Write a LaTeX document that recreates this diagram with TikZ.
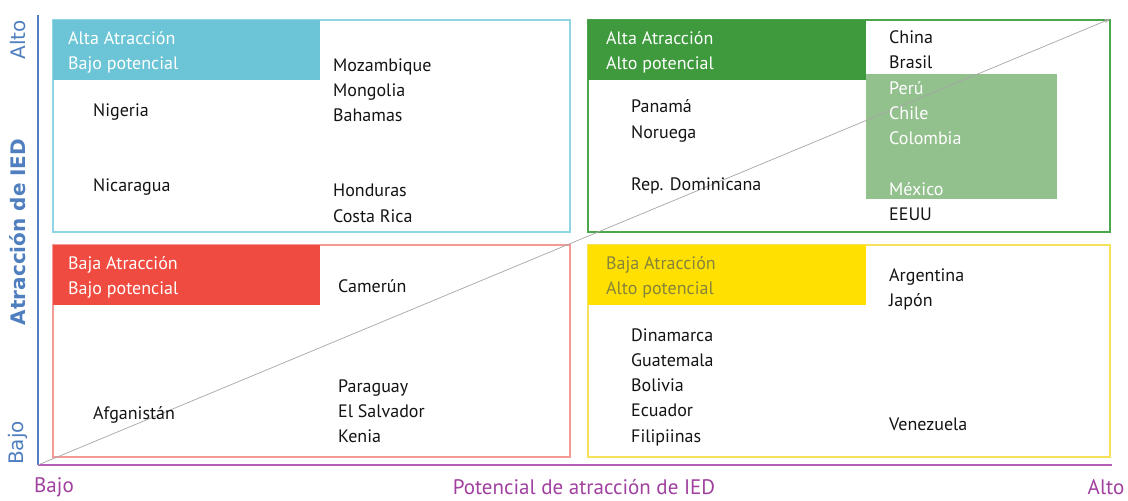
\documentclass[tikz,border=0pt]{standalone}
\usepackage{fontspec}
\setmainfont{PT Sans}
\newfontfamily\axisfont{DejaVu Sans}
\usetikzlibrary{arrows.meta}
\definecolor{cyanH}{HTML}{6CC5D6}
\definecolor{cyanB}{HTML}{8FD5E3}
\definecolor{greenH}{HTML}{3E9A3C}
\definecolor{greenB}{HTML}{4CA64A}
\definecolor{greenL}{HTML}{93C18E}
\definecolor{redH}{HTML}{EF4B40}
\definecolor{redB}{HTML}{F49A96}
\definecolor{yelH}{HTML}{FFE000}
\definecolor{yelB}{HTML}{F5E15A}
\definecolor{yelT}{HTML}{86843A}
\definecolor{axBlue}{HTML}{4F7FBF}
\definecolor{axPurple}{HTML}{B35DB8}
\definecolor{txPurple}{HTML}{A0409F}
\definecolor{txt}{HTML}{141414}
\tikzset{
  lbl/.style={anchor=base west, inner sep=0pt, font=\fontsize{18}{20}\selectfont, text=txt},
  hdr/.style={lbl, text=white},
  quad/.style={line width=1.3pt},
  ylab/.style={rotate=90, text=axBlue, inner sep=0pt, font=\axisfont\fontsize{20}{22}\selectfont},
  xlab/.style={text=txPurple, inner sep=0pt, font=\fontsize{21}{24}\selectfont},
}
\begin{document}
\begin{tikzpicture}[x=1pt,y=-1pt]
\useasboundingbox[fill=white] (0,0) rectangle (1128,501);
% quadrants
\draw[quad, cyanB] (53,20) rectangle (570,232);
\fill[cyanH] (53,20) rectangle (320,80);
\draw[quad, greenB] (588,20) rectangle (1110,232);
\fill[greenH] (588,20) rectangle (866,80);
\draw[quad, redB] (53,245) rectangle (570,457);
\fill[redH] (53,245) rectangle (320,305);
\draw[quad, yelB] (588,245) rectangle (1110,457);
\fill[yelH] (588,245) rectangle (866,305);
\fill[greenL] (866,74) rectangle (1057,199);
% axes
\coordinate (O) at (38,465);
\coordinate (Ytop) at (38,15);
\coordinate (Xend) at (1112,465);
\coordinate (D) at (1110,19);
\draw[axBlue, line width=1.5pt] (Ytop) -- (O);
\draw[axPurple, line width=1.8pt] (O) -- (Xend);
\draw[gray!70, line width=0.7pt, -{Stealth[length=6pt,width=4pt]}] (O) -- (D);
% axis labels
\node[ylab, font=\axisfont\bfseries\fontsize{20}{22}\selectfont] (ya) at (18,232) {Atracción de IED};
\node[ylab] (yh) at (18,40) {Alto};
\node[ylab] (yl) at (18,443) {Bajo};
\node[xlab] (xa) at (584,487) {Potencial de atracción de IED};
\node[xlab] (xl) at (54,487) {Bajo};
\node[xlab] (xh) at (1106,487) {Alto};
% headers
\node[hdr] (h1a) at (68,44) {Alta Atracción};
\node[hdr] (h1b) at (68,69) {Bajo potencial};
\node[hdr] (h2a) at (606,44) {Alta Atracción};
\node[hdr] (h2b) at (606,69) {Alto potencial};
\node[hdr] (h3a) at (68,269) {Baja Atracción};
\node[hdr] (h3b) at (68,294) {Bajo potencial};
\node[hdr, text=yelT] (h4a) at (606,269) {Baja Atracción};
\node[hdr, text=yelT] (h4b) at (606,294) {Alto potencial};
% TL
\node[lbl] (nig) at (93,116) {Nigeria};
\node[lbl] (nic) at (93,191) {Nicaragua};
\node[lbl] (moz) at (333,71) {Mozambique};
\node[lbl] (mon) at (333,96) {Mongolia};
\node[lbl] (bah) at (333,121) {Bahamas};
\node[lbl] (hon) at (333,196) {Honduras};
\node[lbl] (cri) at (333,222) {Costa Rica};
% TR
\node[lbl] (chn) at (889,43) {China};
\node[lbl] (bra) at (889,68) {Brasil};
\node[lbl, text=white] (per) at (889,94) {Perú};
\node[lbl, text=white] (chl) at (889,119) {Chile};
\node[lbl, text=white] (col) at (889,144) {Colombia};
\node[lbl, text=white] (mex) at (889,195) {México};
\node[lbl] (usa) at (889,220) {EEUU};
\node[lbl] (pan) at (631,112) {Panamá};
\node[lbl] (nor) at (631,138) {Noruega};
\node[lbl] (dom) at (631,190) {Rep. Dominicana};
% BL
\node[lbl] (cam) at (338,292) {Camerún};
\node[lbl] (afg) at (93,419) {Afganistán};
\node[lbl] (par) at (338,392) {Paraguay};
\node[lbl] (sal) at (338,417) {El Salvador};
\node[lbl] (ken) at (338,442) {Kenia};
% BR
\node[lbl] (arg) at (889,281) {Argentina};
\node[lbl] (jap) at (889,306) {Japón};
\node[lbl] (din) at (631,341) {Dinamarca};
\node[lbl] (gua) at (631,366) {Guatemala};
\node[lbl] (bol) at (631,391) {Bolivia};
\node[lbl] (ecu) at (631,416) {Ecuador};
\node[lbl] (fil) at (631,442) {Filipiinas};
\node[lbl] (ven) at (889,430) {Venezuela};
\end{tikzpicture}
\end{document}
